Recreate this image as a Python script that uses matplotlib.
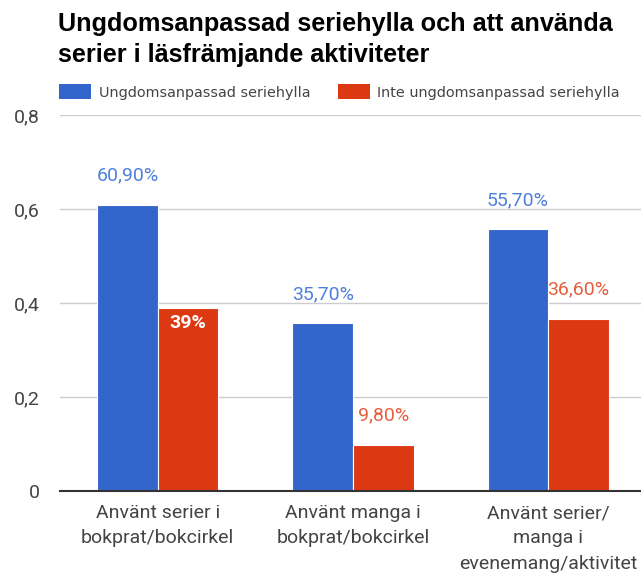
import matplotlib
matplotlib.use("Agg")
import matplotlib.pyplot as plt
import numpy as np
from matplotlib.patches import Patch

categories = ["Använt serier i\nbokprat/bokcirkel",
              "Använt manga i\nbokprat/bokcirkel",
              "Använt serier/\nmanga i\nevenemang/aktivitet"]
series_names = ["Ungdomsanpassad seriehylla", "Inte ungdomsanpassad seriehylla"]
blue_vals = [0.609, 0.357, 0.557]
red_vals = [0.39, 0.098, 0.366]
blue_labels = ["60,90%", "35,70%", "55,70%"]
red_labels = ["39%", "9,80%", "36,60%"]
yticks = [0, 0.2, 0.4, 0.6, 0.8]
ytick_labels = ["0", "0,2", "0,4", "0,6", "0,8"]

BLUE = "#3366cc"
RED = "#dc3912"
BLUE_TXT = "#4f80dc"
RED_TXT = "#e5603e"

W, H = 641, 574
fig = plt.figure(figsize=(W / 100, H / 100), dpi=100)
ax = fig.add_axes([60 / W, 83 / H, 586 / W, 376 / H])

x = np.arange(len(categories))
bw = 0.31
bb = ax.bar(x - bw / 2, blue_vals, bw, color=BLUE, edgecolor="white", linewidth=0.8, zorder=3)
rb = ax.bar(x + bw / 2, red_vals, bw, color=RED, edgecolor="white", linewidth=0.8, zorder=3)

ax.set_xlim(-0.5, 2.5)
ax.set_ylim(0, 0.8)
ax.set_yticks(yticks)
ax.set_yticklabels(ytick_labels)
ax.set_xticks(x)
ax.set_xticklabels(categories, linespacing=1.52)
ax.tick_params(axis="both", length=0, labelsize=14, labelcolor="#444444")
ax.tick_params(axis="y", pad=14.4)
ax.tick_params(axis="x", pad=9.5)
for lab in ax.get_xticklabels() + ax.get_yticklabels():
    lab.set_family("Roboto")

ax.grid(axis="y", color="#cccccc", linewidth=1, zorder=0)
for s in ["top", "right", "left"]:
    ax.spines[s].set_visible(False)
ax.spines["bottom"].set_color("#333333")
ax.spines["bottom"].set_linewidth(1.5)
ax.spines["bottom"].set_zorder(4)

for rect, lab in zip(bb, blue_labels):
    ax.annotate(lab, (rect.get_x() + rect.get_width() / 2, rect.get_height()),
                xytext=(0, 21), textcoords="offset points", ha="center", va="center",
                fontsize=14, color=BLUE_TXT, family="Roboto", zorder=5)
for i, (rect, lab) in enumerate(zip(rb, red_labels)):
    if i == 0:
        ax.annotate(lab, (rect.get_x() + rect.get_width() / 2, rect.get_height()),
                    xytext=(0, -11), textcoords="offset points", ha="center", va="center",
                    fontsize=14, color="white", fontweight="bold", family="Roboto", zorder=5)
    else:
        ax.annotate(lab, (rect.get_x() + rect.get_width() / 2, rect.get_height()),
                    xytext=(0, 21), textcoords="offset points", ha="center", va="center",
                    fontsize=14, color=RED_TXT, family="Roboto", zorder=5)

fig.text(58 / W, 1 - 39.5 / H, "Ungdomsanpassad seriehylla och att använda\nserier i läsfrämjande aktiviteter",
         ha="left", va="center", fontsize=18.2, fontweight="bold", family="Liberation Sans",
         color="#000000", linespacing=1.38)

handles = [Patch(facecolor=BLUE), Patch(facecolor=RED)]
leg = fig.legend(handles, series_names, loc="center left", bbox_to_anchor=(59 / W, 1 - 92 / H),
                 ncol=2, frameon=False, handlelength=2.22, handleheight=1.18,
                 handletextpad=0.55, columnspacing=1.9, borderpad=0, borderaxespad=0,
                 prop={"family": "DejaVu Sans", "size": 10.35})
for t in leg.get_texts():
    t.set_color("#444444")

fig.savefig("out.png", dpi=100)
